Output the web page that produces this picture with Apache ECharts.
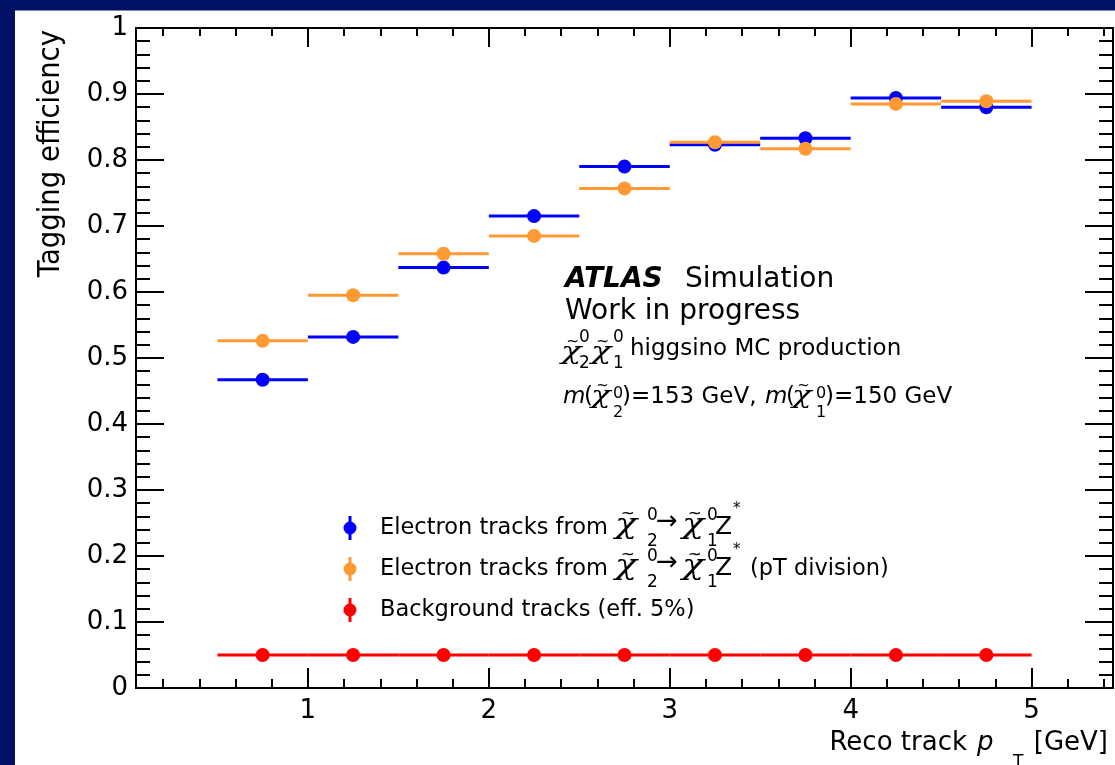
<!DOCTYPE html>
<html><head><meta charset="utf-8">
<script src="https://cdn.jsdelivr.net/npm/echarts@6/dist/echarts.min.js"></script>
<style>html,body{margin:0;padding:0;background:#fff;}#c{width:1115px;height:765px;}</style>
</head><body><div id="c"></div>
<script>
// ---------------- data ----------------
const binCenters = [0.75, 1.25, 1.75, 2.25, 2.75, 3.25, 3.75, 4.25, 4.75];
const binHalfWidth = 0.25;
const effSignal       = [0.467, 0.532, 0.637, 0.715, 0.790, 0.823, 0.833, 0.894, 0.880];
const effSignalPtDiv  = [0.526, 0.595, 0.658, 0.685, 0.757, 0.827, 0.817, 0.885, 0.889];
const effBackground   = [0.05, 0.05, 0.05, 0.05, 0.05, 0.05, 0.05, 0.05, 0.05];
const xMajorTicks = [1, 2, 3, 4, 5];
const xMinorTicks = [0.2, 0.4, 0.6, 0.8, 1.2, 1.4, 1.6, 1.8, 2.2, 2.4, 2.6, 2.8, 3.2, 3.4, 3.6, 3.8,
                     4.2, 4.4, 4.6, 4.8, 5.2, 5.4];
const xRange = [0.05, 5.45];
const yRange = [0, 1];
const yMajorStep = 0.1;
const legendLabels = ['Electron tracks from', 'Electron tracks from', 'Background tracks (eff. 5%)'];

// ---------------- styles ----------------
const SANS = '"DejaVu Sans", "Liberation Sans", sans-serif';
const SERIF = '"DejaVu Serif", "Liberation Serif", serif';
const BLUE = '#0000ff', ORANGE = '#ff9933', RED = '#ff0000', NAVY = '#001166';

const mctx = document.createElement('canvas').getContext('2d');
function mw(text, f) { mctx.font = f; return mctx.measureText(text).width; }

function font(size, o) {
  o = o || {};
  return (o.italic ? 'italic ' : '') + (o.bold ? 'bold ' : '') + size + 'px ' + (o.family || SANS);
}
function T(text, x, b, size, o) {
  o = o || {};
  const el = {
    type: 'text', x: x, y: b - 0.35 * size, z: 100, silent: true,
    style: { text: text, font: font(size, o), fill: '#000',
      textAlign: o.align || 'left', align: o.align || 'left',
      textVerticalAlign: 'middle', verticalAlign: 'middle' }
  };
  if (o.scaleX) { el.scaleX = o.scaleX; el.originX = 0; el.originY = 0; }
  return el;
}
// tilde-chi with stacked super/subscripts
function chi(x, b, s, sup, sub, sx, supB, subB, ss) {
  const k = 1.35;
  const cw = mw('\u03C7', font(s, { italic: true, family: SERIF })) * k;
  return [
    T('\u03C7', x, b, s, { italic: true, family: SERIF, scaleX: k }),
    T('~', x + cw * 0.58, b - 0.55 * s, 0.62 * s, { align: 'center' }),
    T(sup, x + sx, supB, ss),
    T(sub, x + sx, subB, ss)
  ];
}

const g = [];
// navy frame strips
g.push({ type: 'rect', shape: { x: 0, y: 0, width: 1115, height: 10.5 }, style: { fill: NAVY }, z: 0 });
g.push({ type: 'rect', shape: { x: 0, y: 0, width: 15, height: 765 }, style: { fill: NAVY }, z: 0 });

// y-axis title
g.push({ type: 'text', x: 51, y: 30, rotation: Math.PI / 2, scaleY: 1.12, z: 100, silent: true,
  style: { text: 'Tagging efficiency', font: font(27.5), fill: '#000',
    textAlign: 'right', align: 'right', textVerticalAlign: 'middle', verticalAlign: 'middle' } });

// x-axis title
g.push(T('Reco track', 967, 752, 26, { align: 'right' }));
g.push(T('p', 977, 752, 26, { italic: true }));
g.push(T('T', 1013, 769, 17));
g.push(T('[GeV]', 1108, 752, 26, { align: 'right' }));

// ATLAS label block
g.push(T('ATLAS', 565, 290, 28, { bold: true, italic: true }));
g.push(T('Simulation', 685, 290, 28));
g.push(T('Work in progress', 565, 322, 28));
chi(561, 361, 25, '0', '2', 18, 344, 370, 17).forEach(e => g.push(e));
chi(591, 361, 25, '0', '1', 22, 344, 370, 17).forEach(e => g.push(e));
g.push(T('higgsino MC production', 630, 357, 23));
g.push(T('m', 563, 405, 23, { italic: true }));
g.push(T('(', 584, 405, 23));
chi(591, 405, 24, '0', '2', 22, 399, 418, 16).forEach(e => g.push(e));
g.push(T(')=153 GeV,', 622, 405, 23));
g.push(T('m', 765, 405, 23, { italic: true }));
g.push(T('(', 786, 405, 23));
chi(792, 405, 24, '0', '1', 24, 399, 418, 16).forEach(e => g.push(e));
g.push(T(')=150 GeV', 825, 405, 23));

// legend
const legendColors = [BLUE, ORANGE, RED];
const legendRowY = [528, 569, 610];
legendRowY.forEach((c, i) => {
  const col = legendColors[i];
  g.push({ type: 'line', shape: { x1: 350, y1: c - 12, x2: 350, y2: c + 12 }, style: { stroke: col, lineWidth: 3 }, z: 100 });
  g.push({ type: 'circle', shape: { cx: 350, cy: c, r: 6.5 }, style: { fill: col }, z: 101 });
  const b = c + 8.5;
  g.push(T(legendLabels[i], 380, b, 22.5));
  if (i < 2) {
    chi(615, b - 1, 27, '0', '2', 32, b - 15, b + 11, 17).forEach(e => g.push(e));
    g.push(T('\u2192', 656, b - 5, 26));
    chi(682, b - 1, 27, '0', '1', 25, b - 15, b + 11, 17).forEach(e => g.push(e));
    g.push(T('Z', 715, b, 25));
    g.push(T('*', 733, b - 22, 15));
    if (i === 1) g.push(T('(pT division)', 750, b, 22.5));
  }
});

// ---------------- series ----------------
function makeSeries(name, values, color, z) {
  return {
    type: 'custom', name: name, xAxisIndex: 0, yAxisIndex: 0, z: z,
    data: binCenters.map((c, i) => [c, values[i]]),
    renderItem: function (params, api) {
      const x = api.value(0), y = api.value(1);
      const p0 = api.coord([x - binHalfWidth, y]);
      const p1 = api.coord([x + binHalfWidth, y]);
      const pc = api.coord([x, y]);
      return { type: 'group', children: [
        { type: 'line', shape: { x1: p0[0], y1: p0[1], x2: p1[0], y2: p1[1] }, style: { stroke: color, lineWidth: 3 } },
        { type: 'circle', shape: { cx: pc[0], cy: pc[1], r: 7 }, style: { fill: color } }
      ] };
    }
  };
}

const axisLine = { show: true, onZero: false, lineStyle: { color: '#000', width: 2 } };
function xAx(pos, ticks, len, labels) {
  return {
    type: 'value', position: pos, min: xRange[0], max: xRange[1],
    axisLine: axisLine, splitLine: { show: false },
    axisTick: { show: true, inside: true, length: len, customValues: ticks, lineStyle: { color: '#000', width: 2 } },
    axisLabel: labels ? { show: true, customValues: ticks, margin: 10, color: '#000', fontSize: 26, fontFamily: SANS }
                      : { show: false }
  };
}
function yAx(pos, labels) {
  return {
    type: 'value', position: pos, min: yRange[0], max: yRange[1], interval: yMajorStep,
    axisLine: axisLine, splitLine: { show: false },
    axisTick: { show: true, inside: true, length: 28, lineStyle: { color: '#000', width: 2 } },
    minorTick: { show: true, splitNumber: 5, length: 14, lineStyle: { color: '#000', width: 2 } },
    minorSplitLine: { show: false },
    axisLabel: labels ? { show: true, margin: 8, color: '#000', fontSize: 26, fontFamily: SANS } : { show: false }
  };
}

const option = {
  animation: false,
  backgroundColor: '#fff',
  grid: { left: 136, top: 28, width: 977, height: 660, containLabel: false },
  xAxis: [
    xAx('bottom', xMajorTicks, 20, true),
    xAx('bottom', xMinorTicks, 9, false),
    xAx('top', xMajorTicks, 19, false),
    xAx('top', xMinorTicks, 8, false)
  ],
  yAxis: [yAx('left', true), yAx('right', false)],
  series: [
    makeSeries('Electron tracks', effSignal, BLUE, 2),
    makeSeries('Electron tracks (pT division)', effSignalPtDiv, ORANGE, 3),
    makeSeries('Background tracks (eff. 5%)', effBackground, RED, 4)
  ],
  graphic: { elements: g }
};
const chart = echarts.init(document.getElementById('c'), null, { renderer: 'canvas' });
chart.setOption(option);
</script></body></html>
